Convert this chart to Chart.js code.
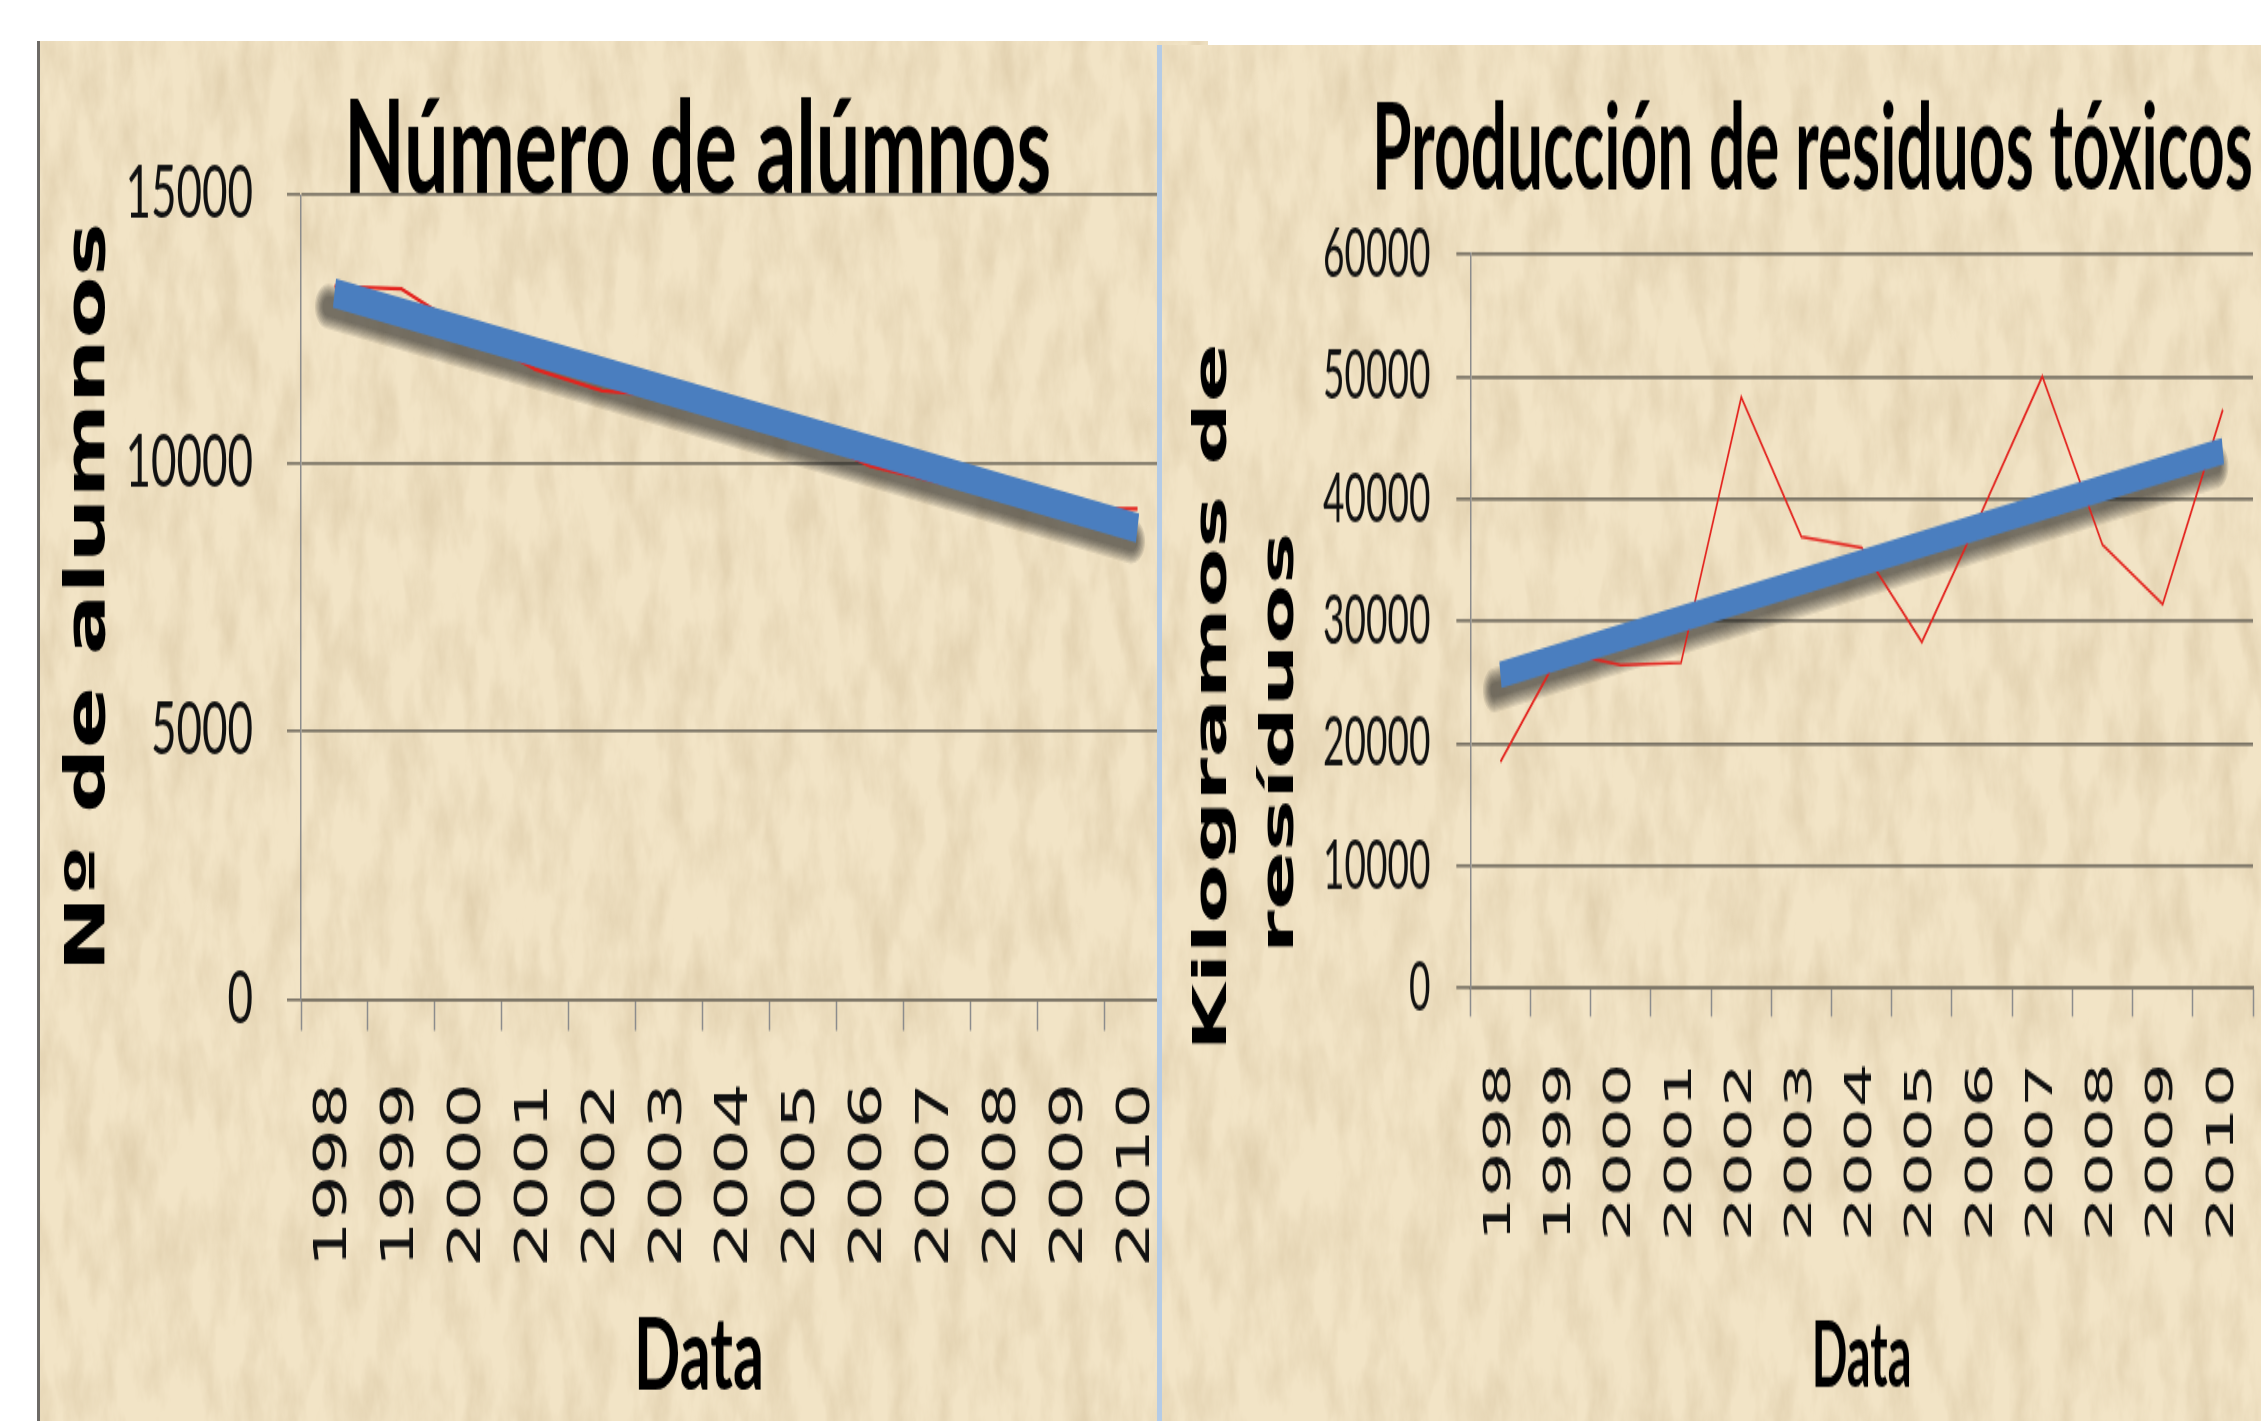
<!DOCTYPE html>
<html lang="es">
<head>
<meta charset="utf-8">
<title>Número de alumnos y residuos tóxicos</title>
<script src="https://cdn.jsdelivr.net/npm/chart.js@4.4.1/dist/chart.umd.min.js"></script>
<style>
  html, body { margin: 0; padding: 0; background: #fff; overflow: hidden; }
  body { width: 2261px; height: 1421px; position: relative; }
  .panel { position: absolute; overflow: hidden; background-color: #f2e4c6; }
  #panelIzq { left: 37px; top: 41px; width: 1168px; height: 1380px; border-left: 3px solid #6d6a66; }
  #panelDer { left: 1157px; top: 45px; width: 1099px; height: 1376px; border-left: 5px solid #b4cbe6; }
  /* la captura original está estirada en vertical */
  .estirado { transform-origin: 0 0; }
  #envIzq { width: 1140px; height: 836px; transform: scaleY(1.6507); }
  #envDer { width: 1099px; height: 724px; transform: scaleY(1.9006); }
</style>
</head>
<body>
<div class="panel" id="panelIzq"><div class="estirado" id="envIzq"><canvas id="Grafico-Alumnos"></canvas></div></div>
<div class="panel" id="panelDer"><div class="estirado" id="envDer"><canvas id="Grafico-Residuos"></canvas></div></div>
<script>
// Datos
const anos = ["1998", "1999", "2000", "2001", "2002", "2003", "2004", "2005", "2006", "2007", "2008", "2009", "2010"];

const alumnos = [13300, 13250, 12450, 11750, 11350, 11250, 10900, 10550, 9950, 9650, 9450, 9150, 9150];
// tendencia lineal: solo extremos
const alumnosTendencia = [13170, null, null, null, null, null, null, null, null, null, null, null, 8790];

const residuos = [18500, 27500, 26400, 26600, 48300, 36900, 36000, 28300, 39000, 50000, 36250, 31400, 47300];
const residuosTendencia = [25600, null, null, null, null, null, null, null, null, null, null, null, 43900];

// Textura tipo pergamino (una sola tesela grande, sin costuras)
const ruido = "<svg xmlns='http://www.w3.org/2000/svg' width='1400' height='1400'>" +
  "<filter id='f' x='0' y='0' width='100%' height='100%'><feTurbulence type='fractalNoise' baseFrequency='0.04 0.012' numOctaves='5' seed='7'/>" +
  "<feColorMatrix values='0 0 0 0 0.6  0 0 0 0 0.47  0 0 0 0 0.28  0.8 0 0 0 -0.3'/></filter>" +
  "<rect width='1400' height='1400' filter='url(#f)'/></svg>";
document.querySelectorAll(".panel").forEach((p) => {
  p.style.backgroundImage = `url("data:image/svg+xml,${encodeURIComponent(ruido)}")`;
});

// Sombra difusa bajo la línea de tendencia (varios trazos translúcidos)
const sombraTendencia = {
  id: "sombraTendencia",
  beforeDatasetsDraw(chart) {
    const ds = chart.data.datasets[0];
    const pts = chart.getDatasetMeta(0).data.filter((p) => !p.skip);
    if (pts.length < 2) return;
    const a = pts[0];
    const b = pts[pts.length - 1];
    const ctx = chart.ctx;
    ctx.save();
    ctx.lineCap = "round";
    ctx.strokeStyle = "rgba(35, 33, 30, 0.12)";
    for (let i = 0; i < 7; i++) {
      ctx.lineWidth = ds.borderWidth - 6 + i * 2.5;
      ctx.beginPath();
      ctx.moveTo(a.x - 6, a.y + 8);
      ctx.lineTo(b.x - 6, b.y + 8);
      ctx.stroke();
    }
    ctx.restore();
  },
};

const colorRejilla = "#7b7466";
const colorEje = "#8c8c8c";

function crearGrafico(id, c) {
  return new Chart(document.getElementById(id).getContext("2d"), {
    type: "line",
    data: {
      labels: anos,
      datasets: [
        {
          data: c.tendencia,
          borderColor: "#4a7ebf",
          borderWidth: c.anchoTendencia,
          borderCapStyle: "butt",
          pointRadius: 0,
          spanGaps: true,
          order: 0,
        },
        {
          data: c.serie,
          borderColor: "#e3231e",
          borderWidth: c.anchoSerie,
          pointRadius: 0,
          tension: 0,
          order: 1,
        },
      ],
    },
    options: {
      responsive: true,
      maintainAspectRatio: false,
      animation: false,
      layout: { padding: { left: 0, right: c.padDer, top: 0, bottom: 0 } },
      plugins: {
        legend: { display: false },
        tooltip: { enabled: false },
        title: {
          display: true,
          text: c.titulo,
          fullSize: c.tituloAncho,
          align: c.alineaTitulo,
          color: "#000",
          font: { family: "Lato", weight: "bold", size: c.tamTitulo, lineHeight: c.altoTitulo },
          padding: c.padTitulo,
        },
      },
      scales: {
        x: {
          offset: true,
          grid: {
            display: true,
            offset: true,
            drawOnChartArea: false,
            tickLength: c.marcaX,
            tickColor: colorEje,
            tickWidth: 1.5,
          },
          border: { display: true, color: colorRejilla, width: 1.7 },
          ticks: {
            autoSkip: false,
            minRotation: 90,
            maxRotation: 90,
            padding: c.padTicksX,
            color: "#111",
            font: { family: "DejaVu Sans", size: c.tamTicksX, lineHeight: 0.2 },
          },
          title: {
            display: true,
            text: c.tituloX,
            color: "#000",
            font: { family: "Lato", weight: "bold", size: c.tamData, lineHeight: 1 },
            padding: c.padData,
          },
        },
        y: {
          min: 0,
          max: c.maxY,
          ticks: {
            stepSize: c.pasoY,
            padding: c.padTicksY,
            color: "#111",
            font: { family: "Lato", size: c.tamTicksY },
            callback: (v) => String(v),
          },
          grid: { color: colorRejilla, lineWidth: 1.7, tickLength: 14, tickColor: colorRejilla },
          border: { display: true, color: colorEje, width: 1.5 },
          title: {
            display: true,
            text: c.tituloY,
            color: "#000",
            font: { family: "DejaVu Sans", weight: "bold", size: c.tamTituloY, lineHeight: c.altoTituloY },
            padding: c.padTituloY,
          },
        },
      },
    },
    plugins: [sombraTendencia],
  });
}

crearGrafico("Grafico-Alumnos", {
  serie: alumnos,
  tendencia: alumnosTendencia,
  anchoTendencia: 18,
  anchoSerie: 2.2,
  padDer: 0,
  titulo: "Número de alúmnos    ",
  tituloAncho: false,
  alineaTitulo: "center",
  tamTitulo: 79,
  altoTitulo: 0.8,
  padTitulo: { top: 34.6, bottom: -4.5 },
  marcaX: 19,
  padTicksX: 31.5,
  tamTicksX: 44,
  tituloX: "Data     ",
  tamData: 61,
  padData: { top: -8, bottom: 8.5 },
  maxY: 15000,
  pasoY: 5000,
  padTicksY: 34,
  tamTicksY: 44,
  tituloY: "Nº de alumnos",
  tamTituloY: 55,
  altoTituloY: 1,
  padTituloY: { top: 22, bottom: -25.6 },
});

crearGrafico("Grafico-Residuos", {
  serie: residuos,
  tendencia: residuosTendencia,
  anchoTendencia: 14,
  anchoSerie: 1.6,
  padDer: 8,
  titulo: "Producción de residuos tóxicos",
  tituloAncho: true,
  alineaTitulo: "end",
  tamTitulo: 64,
  altoTitulo: 1,
  padTitulo: { top: 23.4, bottom: 22.6 },
  marcaX: 15,
  padTicksX: 24.2,
  tamTicksX: 37,
  tituloX: "Data",
  tamData: 47,
  padData: { top: 13.7, bottom: 9.5 },
  maxY: 60000,
  pasoY: 10000,
  padTicksY: 26,
  tamTicksY: 37,
  tituloY: ["Kilogramos de     ", "resíduos        "],
  tamTituloY: 46,
  altoTituloY: 1.457,
  padTituloY: { top: 18.5, bottom: -17.5 },
});
</script>
</body>
</html>
